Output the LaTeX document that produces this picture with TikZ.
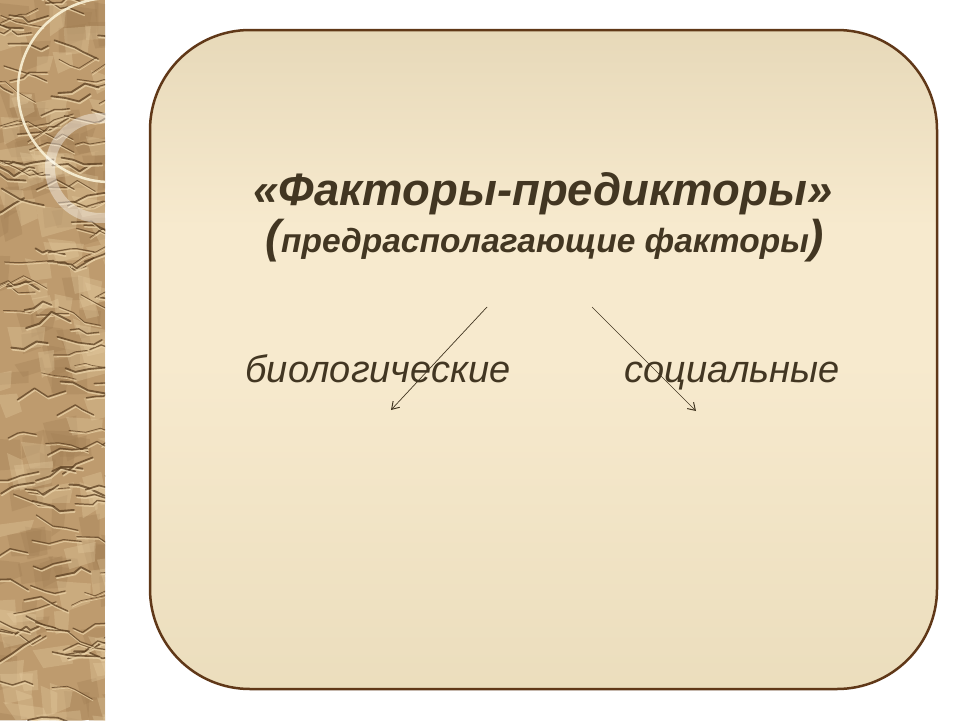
\documentclass[tikz,border=0pt]{standalone}
\usepackage{fontspec}
\setmainfont{Liberation Sans}
\usetikzlibrary{arrows.meta}
\definecolor{txt}{RGB}{66,54,34}
\definecolor{frame}{RGB}{96,56,24}
\definecolor{ftop}{RGB}{204,188,150}
\definecolor{fmid}{RGB}{247,234,206}
\definecolor{fmid2}{RGB}{232,218,184}
\definecolor{fbot}{RGB}{210,194,158}
\definecolor{paper}{RGB}{190,155,110}
\definecolor{paperdk}{RGB}{160,125,82}
\definecolor{crack}{RGB}{92,64,34}
\definecolor{hilite}{RGB}{232,208,165}
\definecolor{ringc}{RGB}{250,242,215}
\pgfdeclareverticalshading{boxshade}{100bp}{color(0bp)=(fbot); color(18bp)=(fmid2); color(50bp)=(fmid); color(60bp)=(fmid); color(100bp)=(ftop)}
\begin{document}
\begin{tikzpicture}[x=1pt,y=-1pt,
  titlefont/.style={font=\fontsize{45.5}{50}\selectfont\bfseries\itshape},
  subfont/.style={font=\fontsize{33.5}{40}\selectfont\bfseries\itshape},
  parfont/.style={font=\fontsize{46}{50}\selectfont\bfseries\itshape},
  itemfont/.style={font=\fontsize{38}{44}\selectfont\itshape},
  conn/.style={draw=txt, line width=0.7pt, -{Straight Barb[length=7pt,width=9pt,line width=1pt]}}]
\useasboundingbox (0,0) rectangle (960,720);
\fill[white] (0,0) rectangle (960,720);
% paper strip
\begin{scope}
\clip (0,0) rectangle (105,720);
\fill[paper] (0,0) rectangle (105,720);
\pgfmathsetseed{11}
\foreach \i in {1,...,90} {
  \pgfmathsetmacro\xa{rnd*120-15}
  \pgfmathsetmacro\ya{rnd*740-10}
  \pgfmathsetmacro\w{15+rnd*30}
  \pgfmathsetmacro\h{10+rnd*25}
  \fill[paperdk, opacity=0.3] (\xa,\ya) -- ++(\w,rnd*16-8) -- ++(rnd*10-5,\h) -- ++(-\w*0.8,rnd*10) -- cycle;
}
\foreach \i in {1,...,90} {
  \pgfmathsetmacro\xa{rnd*120-15}
  \pgfmathsetmacro\ya{rnd*740-10}
  \pgfmathsetmacro\w{15+rnd*30}
  \pgfmathsetmacro\h{8+rnd*20}
  \fill[hilite, opacity=0.3] (\xa,\ya) -- ++(\w,rnd*16-8) -- ++(rnd*10-5,\h) -- ++(-\w*0.8,rnd*10) -- cycle;
}
\foreach \i in {1,...,150} {
  \pgfmathsetmacro\xa{rnd*130-20}
  \pgfmathsetmacro\ya{rnd*740-10}
  \pgfmathsetmacro\aa{rnd*70-35}
  \pgfmathsetmacro\ab{rnd*90-45}
  \pgfmathsetmacro\ac{rnd*70-35}
  \pgfmathsetmacro\la{8+rnd*14}
  \pgfmathsetmacro\lb{5+rnd*12}
  \pgfmathsetmacro\lc{8+rnd*14}
  \pgfmathsetmacro\lw{0.6+rnd*1.4}
  \draw[hilite, line width=\lw pt, opacity=0.8, line cap=round, line join=round, shift={(0.8,1.8)}] (\xa,\ya) -- ++(\aa:\la) -- ++(\ab:\lb) -- ++(\ac:\lc);
  \draw[crack, line width=\lw pt, opacity=0.75, line cap=round, line join=round] (\xa,\ya) -- ++(\aa:\la) -- ++(\ab:\lb) -- ++(\ac:\lc);
}
\draw[ringc, opacity=0.9, line width=2.5pt] (110,90) circle[radius=92];
\draw[white, opacity=0.4, line width=10pt] (100,168) circle[radius=50];
\end{scope}
% main box
\draw[frame, line width=2.5pt, rounded corners=100pt, shading=boxshade] (150,30) rectangle (937,689);
% texts
\node[txt, titlefont, anchor=base, inner sep=0pt] (title) at (543,205) {«Факторы-предикторы»};
\node[txt, subfont, anchor=base, inner sep=0pt] (sub) at (545,252) {{\fontsize{46}{50}\selectfont(}предрасполагающие факторы{\fontsize{46}{50}\selectfont)}};
\node[txt, itemfont, anchor=base, inner sep=0pt] (bio) at (378,382) {биологические};
\node[txt, itemfont, anchor=base, inner sep=0pt] (soc) at (732,382) {социальные};
% connectors
\coordinate (s1) at (487,307);
\coordinate (e1) at (391,410);
\coordinate (s2) at (592,307);
\coordinate (e2) at (696,411);
\draw[conn] (s1) -- (e1);
\draw[conn] (s2) -- (e2);
\end{tikzpicture}
\end{document}
